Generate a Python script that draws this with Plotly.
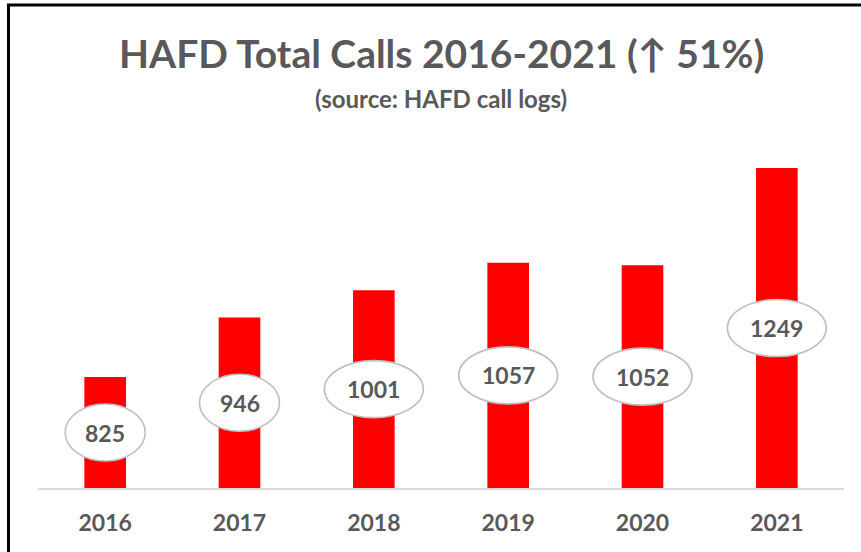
import plotly.graph_objects as go

years = ["2016", "2017", "2018", "2019", "2020", "2021"]
calls = [825, 946, 1001, 1057, 1052, 1249]
title_text = "HAFD Total Calls 2016-2021 (↑ 51%)"
subtitle_text = "(source: HAFD call logs)"

Y_MIN = 600
Y_MAX = 1306
W, H = 861, 552
ML, MR, MT, MB = 38, 17, 140, 64
PW = W - ML - MR
PH = H - MT - MB

GRAY = "#595959"
FONT = "Lato"

def px_to_paper_x(px):
    return (px - ML) / PW

def px_to_paper_y(py):
    return (H - MB - py) / PH

fig = go.Figure()
fig.add_trace(go.Bar(
    x=years, y=[v - Y_MIN for v in calls], base=Y_MIN,
    marker=dict(color="#ff0000", line=dict(width=0)),
    hoverinfo="skip",
))

shapes = []
annotations = []
for i, (yr, v) in enumerate(zip(years, calls)):
    mid = (Y_MIN + v) / 2
    half_w = 11.5 + 9.5 * len(str(v))
    shapes.append(dict(
        type="circle", xref="x", yref="y",
        xsizemode="pixel", ysizemode="pixel",
        xanchor=i, yanchor=mid,
        x0=-half_w, x1=half_w, y0=-28.5, y1=28.5,
        fillcolor="white", line=dict(color="#bfbfbf", width=1.6),
        layer="above",
    ))
    annotations.append(dict(
        x=i, y=mid, xref="x", yref="y", text=f"<b>{v}</b>",
        showarrow=False, font=dict(family=FONT, size=23, color=GRAY),
        xanchor="center", yanchor="middle",
    ))

annotations.append(dict(
    x=px_to_paper_x(442), y=px_to_paper_y(53), xref="paper", yref="paper",
    text=f"<b>{title_text}</b>", showarrow=False,
    font=dict(family=FONT, size=39, color=GRAY), xanchor="center", yanchor="middle",
))
annotations.append(dict(
    x=px_to_paper_x(441), y=px_to_paper_y(98), xref="paper", yref="paper",
    text=f"<b>{subtitle_text}</b>", showarrow=False,
    font=dict(family=FONT, size=24, color=GRAY), xanchor="center", yanchor="middle",
))

# chart frame (left and top edges visible)
left_x = px_to_paper_x(8.5)
top_y = px_to_paper_y(5)
shapes.append(dict(type="path", xref="paper", yref="paper",
                   path=f"M {left_x},{px_to_paper_y(570)} L {left_x},{top_y} L {px_to_paper_x(880)},{top_y}",
                   line=dict(color="black", width=3)))

fig.update_layout(
    width=W, height=H,
    margin=dict(l=ML, r=MR, t=MT, b=MB, pad=0),
    paper_bgcolor="white", plot_bgcolor="white",
    showlegend=False, bargap=0.69,
    shapes=shapes, annotations=annotations,
    xaxis=dict(
        type="category", showgrid=False, zeroline=False,
        showline=True, linecolor="#d9d9d9", linewidth=1.5,
        ticks="", tickfont=dict(family=FONT, size=23, color=GRAY),
        ticklabelstandoff=14, fixedrange=True,
    ),
    yaxis=dict(
        range=[Y_MIN, Y_MAX], visible=False, showgrid=False, fixedrange=True,
    ),
)
fig.update_xaxes(tickvals=years, ticktext=[f"<b>{y}</b>" for y in years])

fig.write_html("out.html", config={"displayModeBar": False},
               post_script="document.body.style.margin='0px';document.body.style.overflow='hidden';")
